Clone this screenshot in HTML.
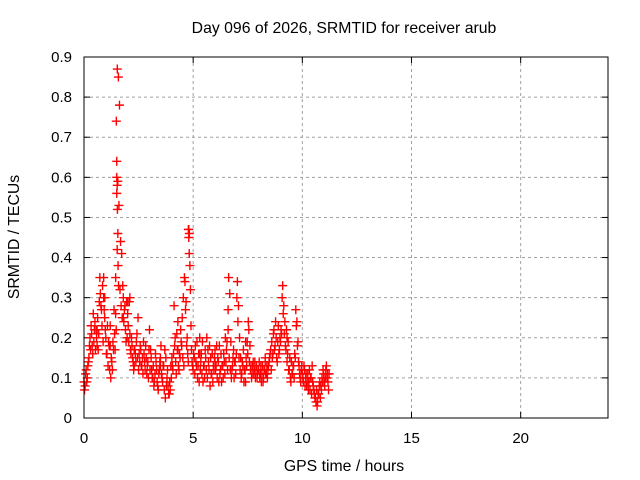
<!DOCTYPE html>
<html><head><meta charset="utf-8"><style>
html,body{margin:0;padding:0;background:#fff;}
svg{display:block;font-family:"Liberation Sans",Arial,sans-serif;}
</style></head><body>
<svg id="chart" width="640" height="480" viewBox="0 0 640 480">
<rect x="0" y="0" width="640" height="480" fill="#fff"/>
<g id="grid"></g>
<g id="ticks"></g>
<g id="marks"></g>
<rect x="84" y="57" width="524" height="361" fill="none" stroke="#000" stroke-width="1"/>
<text x="344" y="33" text-anchor="middle" font-size="15.8">Day 096 of 2026, SRMTID for receiver arub</text>
<text x="344" y="471" text-anchor="middle" font-size="15.8">GPS time / hours</text>
<text x="19" y="237" text-anchor="middle" font-size="15.8" transform="rotate(-90 19 237)">SRMTID / TECUs</text>
</svg>
<script>
const xTicks = [0,5,10,15,20];
const yTicks = [0,0.1,0.2,0.3,0.4,0.5,0.6,0.7,0.8,0.9];
const yTickLabels = ["0","0.1","0.2","0.3","0.4","0.5","0.6","0.7","0.8","0.9"];
const seriesAStart = 0, seriesBStart = 0.025, stepHours = 0.05;
const seriesA = [
.09,.08,.12,.10,.14,.18,.17,.21,.16,.19,.24,.22,.18,.17,.29,.31,.27,.33,.30,.25,
.20,.16,.13,.18,.23,.15,.12,.17,.21,.26,.64,.59,.53,.32,.28,.25,.30,.27,.22,.29,
.26,.19,.21,.16,.18,.14,.13,.16,.19,.15,.12,.14,.17,.13,.11,.16,.12,.15,.13,.10,
.22,.17,.12,.10,.08,.11,.14,.09,.07,.12,.15,.11,.09,.13,.17,.15,.10,.08,.06,.07,
.10,.13,.16,.18,.14,.21,.17,.12,.15,.19,.25,.30,.35,.27,.18,.16,.47,.38,.23,.14,
.12,.15,.18,.13,.10,.16,.20,.14,.11,.09,.13,.17,.12,.10,.14,.18,.15,.11,.09,.12,
.17,.13,.10,.14,.18,.12,.09,.13,.16,.11,.14,.19,.22,.15,.12,.10,.13,.17,.14,.11,
.30,.24,.15,.12,.10,.14,.17,.12,.09,.13,.16,.22,.18,.13,.11,.14,.12,.10,.13,.11,
.12,.10,.13,.11,.09,.12,.14,.11,.10,.13,.15,.17,.19,.16,.22,.18,.20,.14,.23,.17,
.19,.21,.33,.28,.24,.17,.14,.19,.12,.10,.14,.11,.13,.16,.27,.24,.19,.13,.10,.12,
.11,.09,.12,.10,.08,.11,.09,.07,.10,.13,.08,.06,.05,.07,.04,.06,.09,.08,.10,.12,
.09,.10,.13,.11,.07];
const seriesB = [
.07,.11,.09,.13,.15,.20,.23,.18,.26,.22,.17,.20,.25,.21,.35,.28,.23,.19,.27,.22,
.16,.23,.19,.12,.10,.14,.19,.27,.17,.22,.87,.85,.78,.44,.41,.33,.24,.28,.19,.20,
.23,.29,.17,.20,.15,.12,.17,.14,.21,.25,.16,.18,.13,.15,.19,.14,.18,.11,.14,.17,
.12,.15,.10,.13,.09,.16,.12,.08,.11,.14,.18,.10,.13,.07,.05,.08,.12,.06,.09,.13,
.15,.12,.28,.20,.11,.17,.13,.16,.22,.18,.15,.13,.34,.29,.20,.14,.46,.32,.17,.13,
.16,.11,.14,.19,.13,.09,.12,.16,.19,.13,.10,.15,.20,.17,.12,.08,.11,.16,.13,.15,
.12,.18,.15,.09,.11,.16,.13,.10,.14,.20,.17,.12,.35,.31,.19,.12,.15,.10,.14,.16,
.34,.28,.20,.15,.11,.13,.09,.12,.15,.19,.24,.14,.12,.10,.13,.11,.14,.12,.10,.12,
.14,.11,.09,.13,.10,.12,.11,.13,.12,.14,.16,.12,.15,.21,.17,.24,.15,.19,.16,.20,
.22,.30,.26,.21,.18,.22,.16,.12,.15,.09,.11,.13,.10,.15,.23,.18,.14,.11,.09,.13,
.10,.13,.08,.11,.09,.07,.12,.10,.06,.09,.07,.05,.04,.03,.06,.08,.05,.07,.09,.11,
.08,.12,.10,.09,.11];
const extraTimes = [1.48,1.50,1.52,1.50,1.53,1.55,1.52,1.56,1.45,1.58,4.78,4.80,4.82,0.9,0.95,2.0,2.1,0.6,1.2,1.8,2.3,3.5,4.3,5.3,6.0,6.6,7.4,8.3,9.3,10.3];
const extraValues = [.74,.60,.58,.56,.52,.46,.42,.38,.35,.33,.47,.45,.41,.35,.30,.29,.30,.22,.18,.25,.17,.13,.24,.16,.14,.27,.19,.15,.20,.09];

const NS="http://www.w3.org/2000/svg";
const X0=84,X1=608,Y0=418,Y1=57,XMAX=24,YMAX=0.9;
function xs(t){return X0+(t/XMAX)*(X1-X0);}
function ys(v){return Y0-(v/YMAX)*(Y0-Y1);}
const grid=document.getElementById('grid'),ticks=document.getElementById('ticks'),marks=document.getElementById('marks');
function mk(tag,attrs,parent){const e=document.createElementNS(NS,tag);for(const k in attrs)e.setAttribute(k,attrs[k]);parent.appendChild(e);return e;}
yTicks.forEach((v,i)=>{
  const y=ys(v);
  if(i>0&&i<yTicks.length-1){const g=mk('line',{x1:X0,x2:X1,y1:y,y2:y,stroke:'#a0a0a0','stroke-dasharray':'3,3'},grid);
  
  }
  mk('line',{x1:X0,x2:X0+6,y1:y,y2:y,stroke:'#000'},ticks);
  mk('line',{x1:X1-6,x2:X1,y1:y,y2:y,stroke:'#000'},ticks);
  const t=mk('text',{x:X0-12,y:y+5,'text-anchor':'end','font-size':'15'},ticks);
  t.textContent=yTickLabels[i];
  
  
});
xTicks.forEach((v,i)=>{
  const x=xs(v);
  if(i>0){const g=mk('line',{x1:x,x2:x,y1:Y1,y2:Y0,stroke:'#a0a0a0','stroke-dasharray':'3,3'},grid);
  
  }
  mk('line',{x1:x,x2:x,y1:Y0,y2:Y0-6,stroke:'#000'},ticks);
  mk('line',{x1:x,x2:x,y1:Y1,y2:Y1+6,stroke:'#000'},ticks);
  const t=mk('text',{x:x,y:Y0+25,'text-anchor':'middle','font-size':'15'},ticks);
  t.textContent=String(v);
  
  
});
function plus(t,v){
  const x=xs(t),y=ys(v);
  const p=mk('path',{d:`M${x-4.5},${y}H${x+4.5}M${x},${y-4.5}V${y+4.5}`,stroke:'#ff0000','stroke-width':'1.4',fill:'none'},marks);
  
  
}
seriesA.forEach((v,i)=>plus(seriesAStart+i*stepHours,v));
seriesB.forEach((v,i)=>plus(seriesBStart+i*stepHours,v));
extraTimes.forEach((t,i)=>plus(t,extraValues[i]));
</script>
</body></html>
